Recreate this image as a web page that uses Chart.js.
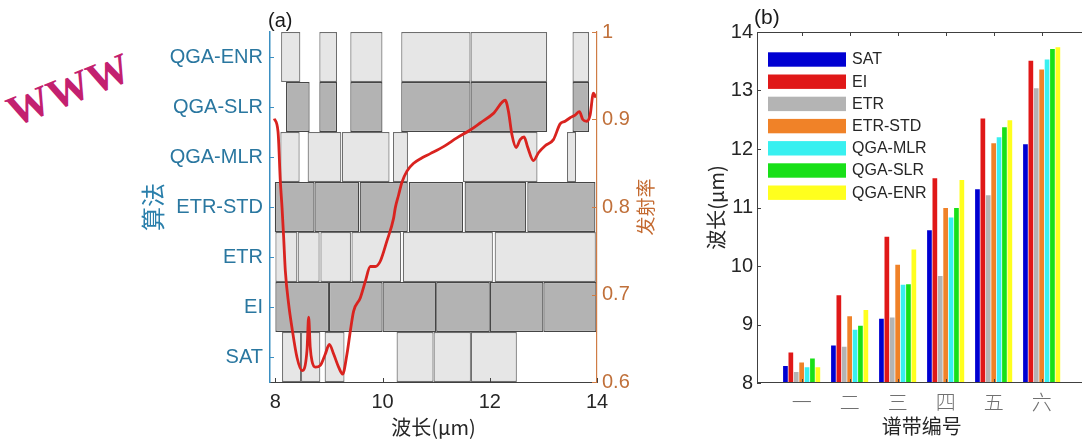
<!DOCTYPE html>
<html>
<head>
<meta charset="utf-8">
<script src="https://cdn.jsdelivr.net/npm/chart.js@4/dist/chart.umd.min.js"></script>
<style>
  html, body { margin: 0; padding: 0; background: #fff; overflow: hidden; width: 1082px; height: 440px; }
  #cA { position: absolute; left: 0; top: 0; }
  #cB { position: absolute; left: 690px; top: 0; }
  .tag { position: absolute; font: 20px "Liberation Sans", Arial, sans-serif; color: #1a1a1a; line-height: 20px; }
  #wm { position: absolute; left: 4px; top: 68px; font: bold 43px "Liberation Serif", "Times New Roman", serif;
        color: #c3206f; line-height: 43px; transform: rotate(-22deg); transform-origin: center; white-space: nowrap; }
</style>
</head>
<body>
<div id="wm">WWW</div>
<canvas id="cA" width="700" height="440"></canvas>
<canvas id="cB" width="420" height="440"></canvas>
<div class="tag" style="left:268px;top:10px;">(a)</div>
<div class="tag" style="left:754px;top:7px;font-size:21px;">(b)</div>
<script>
const LAT = '"Liberation Sans", Arial, sans-serif';
const CJK = '"Noto Sans CJK SC", sans-serif';

// ---- algorithms, bottom to top ----
const algorithms = ['SAT', 'EI', 'ETR', 'ETR-STD', 'QGA-MLR', 'QGA-SLR', 'QGA-ENR'];

// selected spectral bands per algorithm, [start, end] in μm
const bandsSAT    = [[8.125, 8.479], [8.479, 8.839], [8.919, 9.29], [10.261, 10.951], [10.951, 11.648], [11.648, 12.505]];
const bandsEI     = [[8.0, 9.0], [9.0, 10.0], [10.0, 11.0], [11.0, 12.0], [12.0, 13.0], [13.0, 13.99]];
const bandsETR    = [[8.0, 8.41], [8.416, 8.826], [8.84, 9.41], [9.42, 10.345], [10.377, 12.058], [12.091, 13.978]];
const bandsETRSTD = [[7.99, 8.73], [8.73, 9.564], [9.573, 10.47], [10.49, 11.5], [11.53, 12.68], [12.7, 13.97]];
const bandsMLR    = [[8.093, 8.453], [8.602, 9.23], [9.242, 10.13], [10.194, 10.473], [11.5, 12.89], [13.44, 13.61]];
const bandsSLR    = [[8.199, 8.639], [8.82, 9.15], [9.398, 9.998], [10.348, 11.641], [11.641, 13.07], [13.543, 13.852]];
const bandsENR    = [[8.107, 8.466], [8.82, 9.15], [9.398, 9.998], [10.348, 11.641], [11.641, 13.07], [13.543, 13.852]];
const bandsByAlgorithm = [bandsSAT, bandsEI, bandsETR, bandsETRSTD, bandsMLR, bandsSLR, bandsENR];
const rowShade = ['#e6e6e6', '#b3b3b3', '#e6e6e6', '#b3b3b3', '#e6e6e6', '#b3b3b3', '#e6e6e6'];
const rowEdge  = ['#6e6e6e', '#454545', '#6e6e6e', '#454545', '#6e6e6e', '#454545', '#6e6e6e'];

// emissivity spectrum
const wavelength = [7.98, 8.05, 8.093, 8.125, 8.155, 8.186, 8.248, 8.31, 8.404, 8.497, 8.59, 8.621, 8.65, 8.683,
  8.746, 8.839, 8.932, 9.006, 9.087, 9.18, 9.255, 9.336, 9.398, 9.46, 9.584, 9.678, 9.771, 9.864, 9.957, 10.08,
  10.205, 10.237, 10.30, 10.36, 10.455, 10.58, 10.73, 10.89, 11.137, 11.386, 11.635, 11.821, 12.069, 12.287,
  12.349, 12.412, 12.492, 12.567, 12.641, 12.703, 12.815, 12.908, 13.033, 13.187, 13.312, 13.405, 13.499,
  13.592, 13.672, 13.735, 13.81, 13.871, 13.933, 13.98];
const emissivity = [0.901, 0.886, 0.829, 0.799, 0.765, 0.727, 0.689, 0.662, 0.628, 0.613, 0.636, 0.674, 0.640, 0.624,
  0.617, 0.619, 0.632, 0.643, 0.632, 0.617, 0.609, 0.632, 0.658, 0.681, 0.696, 0.715, 0.732, 0.732, 0.738, 0.761,
  0.787, 0.799, 0.814, 0.828, 0.841, 0.850, 0.856, 0.861, 0.869, 0.879, 0.888, 0.896, 0.907, 0.922,
  0.909, 0.883, 0.868, 0.877, 0.880, 0.869, 0.853, 0.862, 0.870, 0.877, 0.895, 0.898, 0.902,
  0.905, 0.909, 0.900, 0.898, 0.905, 0.930, 0.925];

const xTicksA = [8, 10, 12, 14];
const emTickValues = [0.6, 0.7, 0.8, 0.9, 1.0];
const emTickLabels = ['0.6', '0.7', '0.8', '0.9', '1'];

// ---- band centres (μm) for each algorithm ----
const bandNames = ['一', '二', '三', '四', '五', '六'];
const centreSAT    = [8.29, 8.64, 9.10, 10.61, 11.31, 12.08];
const centreEI     = [8.52, 9.50, 10.50, 11.50, 12.52, 13.51];
const centreETR    = [8.19, 8.62, 9.12, 9.83, 11.21, 13.04];
const centreETRSTD = [8.35, 9.14, 10.02, 10.99, 12.10, 13.36];
const centreMLR    = [8.27, 8.91, 9.68, 10.83, 12.20, 13.53];
const centreSLR    = [8.42, 8.98, 9.69, 10.99, 12.37, 13.71];
const centreENR    = [8.27, 9.25, 10.28, 11.47, 12.49, 13.74];
const centres = [centreSAT, centreEI, centreETR, centreETRSTD, centreMLR, centreSLR, centreENR];
const seriesColors = ['#0000d2', '#e01818', '#b4b4b4', '#f08228', '#38f0f0', '#18e018', '#ffff1e'];

// inward tick marks along the plot edges
function tickMarks(id, specs) {
  return {
    id,
    afterDraw(chart) {
      const { ctx, chartArea: a } = chart;
      specs.forEach(sp => {
        const s = chart.scales[sp.scale];
        ctx.save();
        ctx.strokeStyle = sp.color;
        ctx.lineWidth = 1;
        ctx.beginPath();
        s.ticks.forEach((t, i) => {
          const p = Math.round(s.getPixelForTick(i)) + 0.5;
          sp.sides.forEach(side => {
            const L = sp.len;
            if (side === 'left')   { ctx.moveTo(a.left, p);   ctx.lineTo(a.left + L, p); }
            if (side === 'right')  { ctx.moveTo(a.right, p);  ctx.lineTo(a.right - L, p); }
            if (side === 'bottom') { ctx.moveTo(p, a.bottom); ctx.lineTo(p, a.bottom - L); }
            if (side === 'top')    { ctx.moveTo(p, a.top);    ctx.lineTo(p, a.top + L); }
          });
        });
        ctx.stroke();
        ctx.restore();
      });
    }
  };
}

// right-hand axis title, reading bottom to top
const emissivityTitle = {
  id: 'emissivityTitle',
  afterDraw(chart) {
    const { ctx, chartArea: a } = chart;
    ctx.save();
    ctx.translate(a.right + 49, (a.top + a.bottom) / 2);
    ctx.rotate(-Math.PI / 2);
    ctx.font = '19px ' + CJK;
    ctx.fillStyle = '#c46a30';
    ctx.textAlign = 'center';
    ctx.textBaseline = 'middle';
    ctx.fillText('发射率', 0, 0);
    ctx.restore();
  }
};

// ---------------- panel (a) ----------------
const rowDatasets = algorithms.map((name, i) => ({
  type: 'bar',
  label: name,
  indexAxis: 'y',
  xAxisID: 'x',
  yAxisID: 'yA',
  grouped: false,
  data: bandsByAlgorithm[i].map(([s, e]) => ({ x: [s, e], y: name })),
  backgroundColor: rowShade[i],
  borderColor: rowEdge[i],
  borderWidth: 1.2,
  borderSkipped: false,
  inflateAmount: 0,
  categoryPercentage: 1,
  barPercentage: 1,
  order: 1
}));

const spectrumDataset = {
  type: 'line',
  label: '发射率',
  xAxisID: 'x',
  yAxisID: 'yE',
  data: wavelength.map((w, i) => ({ x: w, y: emissivity[i] })),
  borderColor: '#d9231f',
  borderWidth: 2.8,
  pointRadius: 0,
  fill: false,
  cubicInterpolationMode: 'monotone',
  order: -1
};

new Chart(document.getElementById('cA'), {
  type: 'bar',
  data: { datasets: [spectrumDataset, ...rowDatasets] },
  options: {
    responsive: false,
    animation: false,
    devicePixelRatio: 1,
    events: [],
    layout: { padding: { top: 32, left: 0, right: 0, bottom: 0 } },
    plugins: { legend: { display: false }, tooltip: { enabled: false } },
    scales: {
      x: {
        axis: 'x', type: 'linear', position: 'bottom', min: 7.9, max: 14, offset: false,
        afterBuildTicks: s => { s.ticks = xTicksA.map(v => ({ value: v })); },
        grid: { display: false, drawTicks: false, offset: false },
        border: { display: true, color: '#404040', width: 1, z: 1 },
        ticks: { padding: 8, color: '#262626', font: { size: 20, family: LAT }, callback: v => String(v) },
        title: { display: true, text: '波长(μm)', color: '#262626', font: { size: 20, family: CJK }, padding: { top: 0, bottom: 1 } },
        afterFit: s => { s.height = 58; }
      },
      yA: {
        axis: 'y', type: 'category', position: 'left', labels: algorithms, reverse: true, offset: true,
        grid: { display: false, drawTicks: false, offset: true },
        border: { display: true, color: '#3b8fc2', width: 1.5, z: 1 },
        ticks: { padding: 7, color: '#2a77a0', font: { size: 20, family: LAT } },
        title: { display: true, text: '算法', color: '#2a7fab', font: { size: 24, family: CJK }, padding: { top: 138.6, bottom: 0 } },
        afterFit: s => { s.width = 270; }
      },
      yE: {
        axis: 'y', type: 'linear', position: 'right', min: 0.6, max: 1,
        afterBuildTicks: s => { s.ticks = emTickValues.map(v => ({ value: v })); },
        grid: { display: false, drawTicks: false },
        border: { display: true, color: '#cf7c45', width: 1.2, z: 1 },
        ticks: { padding: 5, color: '#c0703a', font: { size: 20, family: LAT }, callback: (v, i) => emTickLabels[i] },
        afterFit: s => { s.width = 103; }
      }
    }
  },
  plugins: [
    tickMarks('ticksA', [
      { scale: 'yA', sides: ['left'], len: 4, color: '#3b8fc2' },
      { scale: 'yE', sides: ['right'], len: 5, color: '#cf7c45' },
      { scale: 'x', sides: ['bottom'], len: 4, color: '#404040' }
    ]),
    emissivityTitle
  ]
});

// ---------------- panel (b) ----------------
const legendInside = {
  id: 'legendInside',
  afterDraw(chart) {
    const { ctx, chartArea: a } = chart;
    ctx.save();
    ctx.font = '16px ' + LAT;
    ctx.textBaseline = 'middle';
    chart.data.datasets.forEach((ds, i) => {
      const y = a.top + 27.5 + i * 22.2;
      ctx.fillStyle = ds.backgroundColor;
      ctx.fillRect(a.left + 11, y - 7.2, 78, 14.4);
      ctx.fillStyle = '#262626';
      ctx.fillText(ds.label, a.left + 95, y + 0.5);
    });
    ctx.restore();
  }
};

const frameBox = {
  id: 'frameBox',
  afterDraw(chart) {
    const { ctx, chartArea: a } = chart;
    ctx.save();
    ctx.strokeStyle = '#404040';
    ctx.lineWidth = 1;
    ctx.strokeRect(Math.round(a.left) + 0.5, Math.round(a.top) + 0.5, Math.round(a.width) - 1, Math.round(a.height) - 1);
    ctx.restore();
  }
};

new Chart(document.getElementById('cB'), {
  type: 'bar',
  data: {
    datasets: algorithms.map((name, i) => ({
      label: name,
      data: centres[i].map((v, k) => ({ x: k + 1, y: v })),
      backgroundColor: seriesColors[i],
      borderWidth: 0,
      inflateAmount: 0,
      categoryPercentage: 0.7875,
      barPercentage: 0.87
    }))
  },
  options: {
    responsive: false,
    animation: false,
    devicePixelRatio: 1,
    events: [],
    layout: { padding: { top: 32, left: 0, right: 23.7, bottom: 0 } },
    plugins: { legend: { display: false }, tooltip: { enabled: false } },
    scales: {
      x: {
        axis: 'x', type: 'linear', position: 'bottom', min: 0.07, max: 6.93, offset: false,
        afterBuildTicks: s => { s.ticks = bandNames.map((_, k) => ({ value: k + 1 })); },
        grid: { display: false, drawTicks: false, offset: false },
        border: { display: false },
        ticks: { padding: 7, color: '#707070', font: { size: 20, family: CJK, weight: 300 }, callback: (v, i) => bandNames[i] },
        title: { display: true, text: '谱带编号', color: '#262626', font: { size: 20, family: CJK }, padding: { top: 0, bottom: 2 } },
        afterFit: s => { s.height = 57; }
      },
      y: {
        axis: 'y', type: 'linear', position: 'left', min: 8, max: 14,
        grid: { display: false, drawTicks: false },
        border: { display: false },
        ticks: { stepSize: 1, padding: 4, color: '#262626', font: { size: 20, family: LAT } },
        title: { display: true, text: '波长(μm)', color: '#262626', font: { size: 20, family: CJK }, padding: { top: 14, bottom: 0 } },
        afterFit: s => { s.width = 67; }
      }
    }
  },
  plugins: [
    frameBox,
    tickMarks('ticksB', [
      { scale: 'y', sides: ['left', 'right'], len: 4, color: '#404040' },
      { scale: 'x', sides: ['top', 'bottom'], len: 4, color: '#404040' }
    ]),
    legendInside
  ]
});
</script>
</body>
</html>
